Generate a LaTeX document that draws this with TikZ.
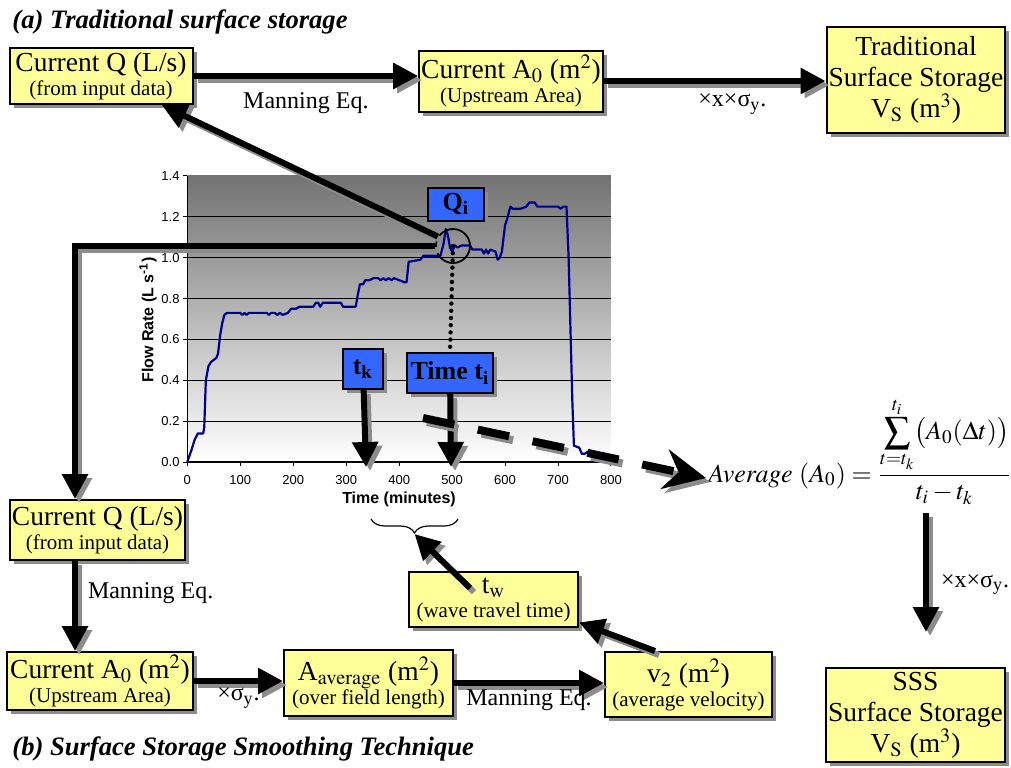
\documentclass[tikz,border=0pt]{standalone}
\usepackage{mathptmx}
\usepackage{fontspec}
\setmainfont{Liberation Serif}
\setsansfont{Liberation Sans}
\usepackage{tikz}
\usetikzlibrary{arrows.meta,shapes,positioning,shadows,calc,decorations.pathreplacing}
\usepackage{xcolor}
\definecolor{boxyellow}{RGB}{255,255,153}
\definecolor{markblue}{RGB}{51,102,255}
\definecolor{flownavy}{RGB}{0,0,140}
\newcommand{\boxmain}{\fontsize{13.75}{15.5}\selectfont}
\newcommand{\boxsub}{\fontsize{10.5}{12.5}\selectfont}
\newcommand{\tickfont}{\sffamily\fontsize{6.5}{7.5}\selectfont}
\newcommand{\axisfont}{\sffamily\bfseries\fontsize{8}{9.5}\selectfont}
\newcommand{\titlefont}{\bfseries\itshape\fontsize{13.3}{16}\selectfont}
\newcommand{\sigy}{×x×σ\textsubscript{y}.}
\tikzstyle{arrow} = [line width=3pt, -{Triangle[length=12.5pt,width=12.5pt]}, drop shadow={shadow xshift=2pt, shadow yshift=-2pt, opacity=1, fill=none, draw=black!45, line width=3pt, -{Triangle[length=12.5pt,width=12.5pt,fill=black!45]}}]
\tikzstyle{dasharrow} = [line width=4pt, dash pattern=on 16pt off 12pt, -{Stealth[length=21pt,width=20pt,inset=7pt]}, drop shadow={shadow xshift=2pt, shadow yshift=-2pt, opacity=1, fill=none, draw=black!45, line width=4pt, dash pattern=on 16pt off 12pt, -{Stealth[length=21pt,width=20pt,inset=7pt,fill=black!45]}}]
\tikzstyle{databox} = [rectangle, draw=black, line width=1pt, fill=boxyellow, align=center, inner sep=1pt, drop shadow={shadow xshift=2pt, shadow yshift=-2pt, fill=black!45, opacity=1}]
\tikzstyle{markbox} = [rectangle, draw=black, line width=1pt, fill=markblue, inner sep=1pt, font=\fontsize{13}{15}\selectfont\bfseries, drop shadow={shadow xshift=2pt, shadow yshift=-2pt, fill=black!45, opacity=1}]
\tikzstyle{eqlabel} = [inner sep=1pt, font=\fontsize{12}{14}\selectfont]

\begin{document}
\begin{tikzpicture}[x=0.5pt, y=-0.5pt]
\useasboundingbox (0,0) rectangle (1011,767);

% Flow rate chart
\begin{scope}[shift={(187.3,462)}, x=0.2648pt, y=102.15pt]
  \shade[top color=black!55, bottom color=white] (0,0) rectangle (800,1.4);
  \foreach \v in {0.2,0.4,0.6,0.8,1,1.2}
    \draw[line width=0.5pt] (-8,\v) -- (800,\v);
  \foreach \v/\lab in {0/0.0,0.2/0.2,0.4/0.4,0.6/0.6,0.8/0.8,1/1.0,1.2/1.2,1.4/1.4}
    \draw[line width=0.5pt] (0,\v) -- (-8,\v) node[left, inner sep=1.5pt, font=\tickfont] {\lab};
  \foreach \t in {0,100,...,800}
    \draw[line width=0.5pt] (\t,0) -- (\t,-0.02) node[below=1pt, font=\tickfont] {\t};
  \draw[line width=0.6pt] (0,1.4) -- (0,0) -- (800,0);
  \draw[flownavy, line width=1.1pt, line join=round] plot coordinates {
    (0,0) (8,0.06) (14,0.11) (20,0.14) (30,0.14) (32,0.17) (35,0.40) (40,0.47)
    (45,0.49) (55,0.51) (58,0.53) (62,0.62) (66,0.68) (70,0.72) (75,0.73)
    (100,0.73) (104,0.72) (108,0.73) (112,0.72) (116,0.73) (150,0.73) (154,0.72)
    (158,0.73) (165,0.73) (170,0.72) (175,0.73) (180,0.72) (190,0.73) (196,0.75)
    (205,0.75) (212,0.76) (238,0.76) (243,0.78) (247,0.78) (251,0.76) (256,0.78)
    (290,0.78) (294,0.76) (318,0.76) (322,0.82) (326,0.87) (332,0.87) (336,0.89)
    (344,0.89) (352,0.90) (360,0.90) (365,0.89) (370,0.90) (375,0.89) (380,0.90)
    (386,0.89) (390,0.90) (400,0.89) (410,0.88) (414,0.88) (418,0.98) (440,0.99)
    (446,1.01) (478,1.01) (484,1.07) (488,1.14) (492,1.11) (496,1.05) (500,1.03)
    (505,1.06) (510,1.05) (518,1.06) (534,1.06) (538,1.04) (556,1.04) (560,1.02)
    (564,1.04) (568,1.02) (572,1.04) (582,1.03) (586,0.99) (590,1.00) (594,1.03)
    (600,1.16) (604,1.19) (610,1.25) (614,1.24) (630,1.24) (640,1.25) (646,1.27)
    (656,1.27) (661,1.25) (700,1.25) (705,1.24) (710,1.25) (716,1.25) (720,1.00)
    (724,0.60) (727,0.30) (730,0.08) (740,0.07) (745,0.04) (750,0.04) (756,0.05)
    (765,0.02) (778,0.00)};
\end{scope}
\node[rotate=90, font=\axisfont] (ylab) at (148,320) {Flow Rate (L s\textsuperscript{-1})};
\node[font=\axisfont] (xlab) at (399,499) {Time (minutes)};
\draw[decorate, decoration={brace, amplitude=7pt}, line width=0.6pt] (458,519) -- (371,519);
\coordinate (bracetip) at (414.5,534);

% (a) traditional
\node[anchor=base west, inner sep=0pt, font=\titlefont] (titlea) at (12,28) {(a) Traditional surface storage};
\node[databox, minimum width=91.5pt, minimum height=28pt] (qin) at (101,76) {\boxmain Current Q (L/s)\\\boxsub (from input data)};
\node[databox, minimum width=89pt, minimum height=30.5pt] (area) at (511,81) {\boxmain Current A$_0$ (m$^2$)\\\boxsub (Upstream Area)};
\node[databox, font=\boxmain, minimum width=88.5pt, minimum height=53pt] (trad) at (916,80) {Traditional\\Surface Storage\\V$_\mathrm{S}$ (m$^3$)};
\draw[arrow] (qin.east) -- node[eqlabel, below=6pt] {Manning Eq.} (qin.east -| area.west);
\draw[arrow] (area.east) -- node[eqlabel, below=4pt, pos=0.58] {\sigy} (area.east -| trad.west);

% markers on the chart
\node[circle, draw, line width=0.9pt, minimum size=17pt, inner sep=0pt] (qcirc) at (453,246) {};
\node[markbox, minimum width=28pt, minimum height=16.5pt] (qi) at (456,204) {Q$_\mathbf{i}$};
\node[markbox, minimum width=20pt, minimum height=20pt] (tk) at (363,369) {t$_\mathbf{k}$};
\node[markbox, minimum width=43pt, minimum height=20pt] (ti) at (450,373) {Time t$_\mathbf{i}$};
\coordinate (tkend) at (366,467);
\coordinate (tiend) at (451,467);
\draw[arrow] (tk) -- (tkend);
\draw[arrow] (ti) -- (tiend);
\draw[line width=2.2pt, line cap=round, dash pattern=on 0pt off 3.6pt] (qcirc.center) -- (ti.north);

% (b) smoothing technique
\node[anchor=base west, inner sep=0pt, font=\titlefont] (titleb) at (12,755) {(b) Surface Storage Smoothing Technique};
\coordinate (leftcol) at (75,0);
\node[databox, minimum width=87.5pt, minimum height=30pt] (qin2) at (97.5,530) {\boxmain Current Q (L/s)\\\boxsub (from input data)};
\node[databox, minimum width=93pt, minimum height=29pt] (area2) at (100,681) {\boxmain Current A$_0$ (m$^2$)\\\boxsub (Upstream Area)};
\node[databox, minimum width=84.5pt, minimum height=33pt] (avgarea) at (368.5,683) {\boxmain A$_\mathrm{average}$ (m$^2$)\\\boxsub (over field length)};
\node[databox, minimum width=83.5pt, minimum height=32.5pt] (vel) at (688.5,684.5) {\boxmain v$_2$ (m$^2$)\\\boxsub (average velocity)};
\node[databox, minimum width=84.5pt, minimum height=27.5pt] (travel) at (493.5,599.5) {\boxmain t$_\mathrm{w}$\\\boxsub (wave travel time)};
\node[anchor=base west, inner sep=1pt, font=\fontsize{13}{16}\selectfont] (avg) at (706,482)
  {$\displaystyle \mathit{Average}\ (A_0)=\frac{\displaystyle\sum_{t=t_k}^{t_i}\bigl(A_0(\Delta t)\bigr)}{t_i-t_k}$};
\node[databox, font=\boxmain, minimum width=87.5pt, minimum height=47pt] (sss) at (915.5,715) {SSS\\Surface Storage\\V$_\mathrm{S}$ (m$^3$)};

\draw[arrow] (qcirc.148) -- (qin);
\draw[arrow] (qcirc.west) -| (qin2.north -| leftcol);
\draw[arrow] (qin2.south -| leftcol) -- node[eqlabel, right=4pt, pos=0.36] {Manning Eq.} (area2.north -| leftcol);
\draw[arrow] (area2.east) -- node[eqlabel, below=1pt] {×σ\textsubscript{y}.} (area2.east -| avgarea.west);
\draw[arrow] (avgarea.east) -- node[eqlabel, below=1pt] {Manning Eq.} (avgarea.east -| vel.west);
\draw[arrow] ([xshift=-16.75pt]vel.north) -- (travel.-15);
\draw[arrow] ([xshift=-11.75pt,yshift=5.75pt]travel.center) -- (bracetip);

\coordinate (dashstart) at (423,418);
\draw[dasharrow] (dashstart) -- ([yshift=2pt]avg.base west);
\coordinate (ssstip) at (926,632);
\draw[arrow, shorten <=3pt] (avg.south -| ssstip) -- node[eqlabel, right=5pt, pos=0.62] {\sigy} (ssstip);
\end{tikzpicture}
\end{document}
